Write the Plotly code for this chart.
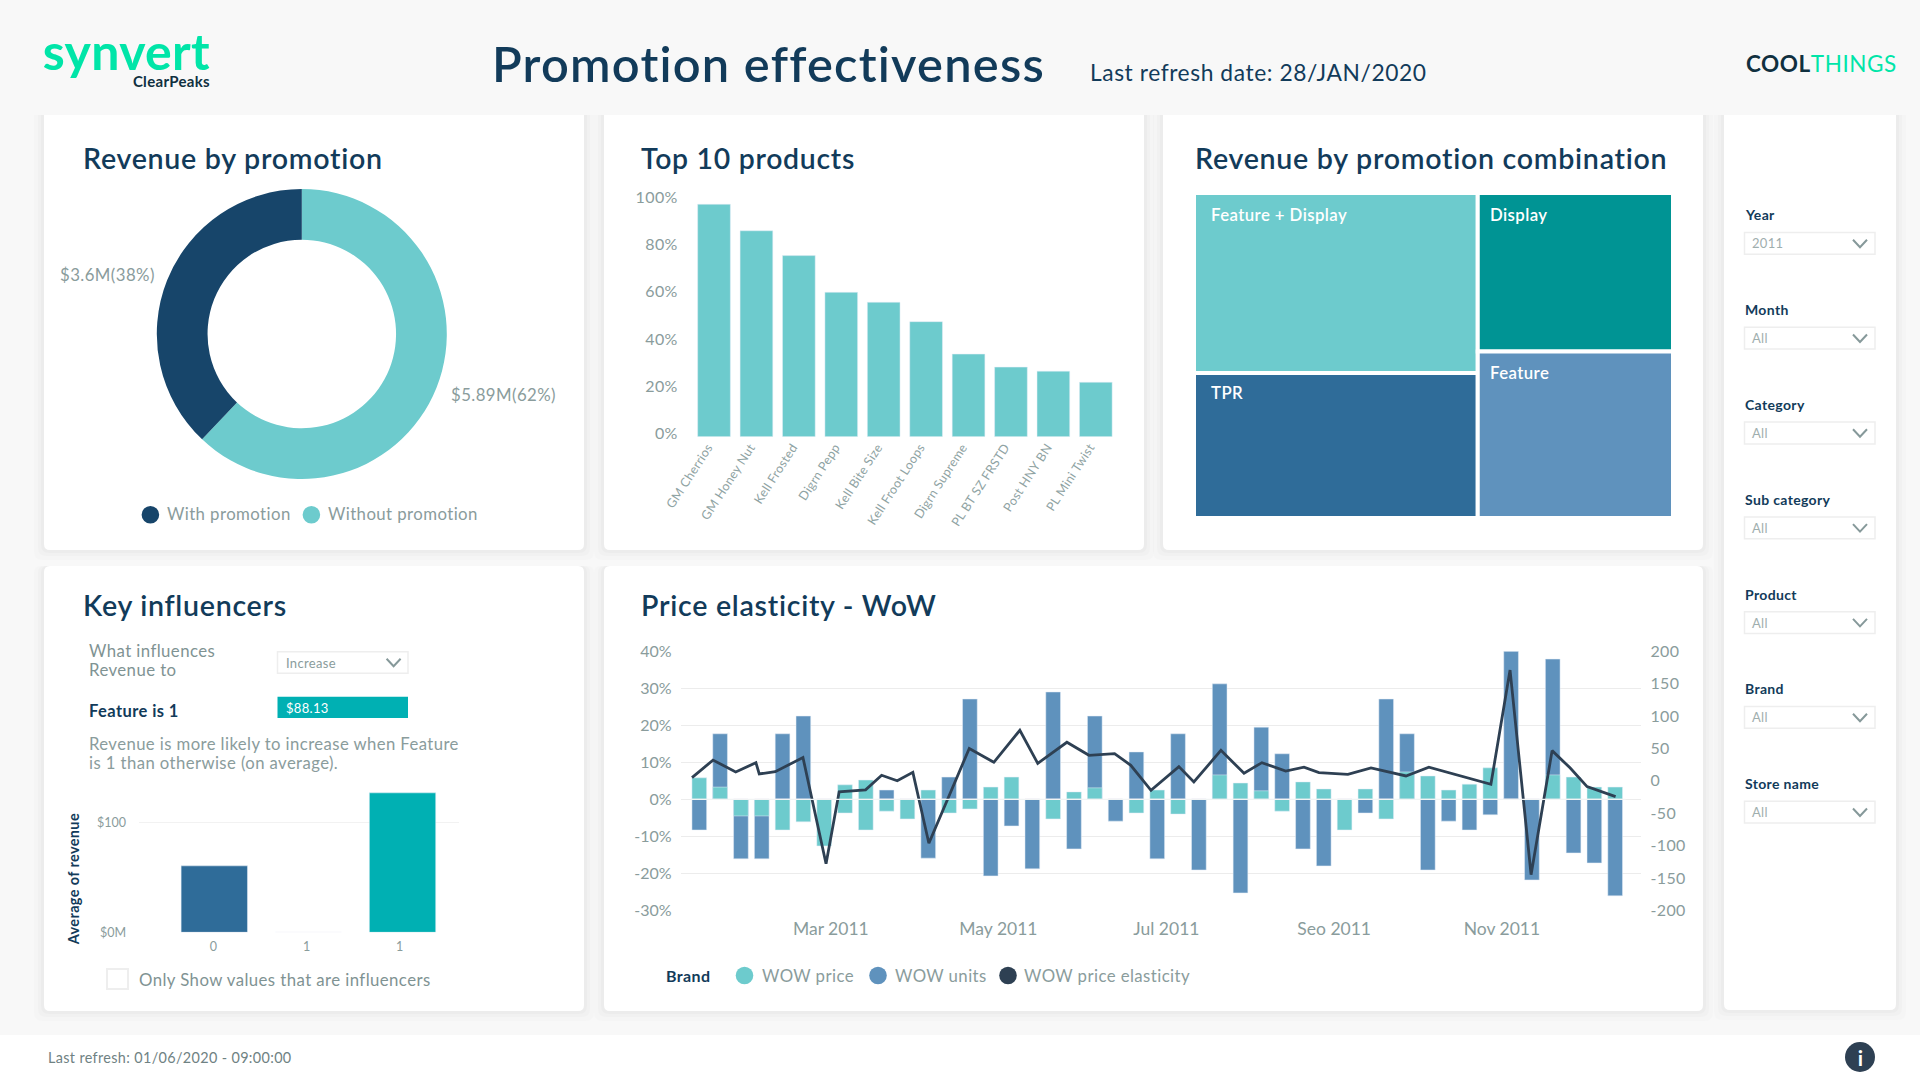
import plotly.graph_objects as go

# revenue by promotion
promo_labels = ['Without promotion', 'With promotion']
promo_values = [5.89, 3.6]

# top 10 products
products = ['GM Cherrios', 'GM Honey Nut', 'Kell Frosted', 'Digrn Pepp', 'Kell Bite Size',
            'Kell Froot Loops', 'Digrn Supreme', 'PL BT SZ FRSTD', 'Post HNY BN', 'PL Mini Twist']
product_share = [98.2, 87, 76.5, 61, 56.8, 48.6, 34.9, 29.4, 27.7, 23]
share_ticks = [0, 20, 40, 60, 80, 100]
share_labels = ['0%', '20%', '40%', '60%', '80%', '100%']

# revenue by promotion combination
combo_labels = ['Feature + Display', 'TPR', 'Display', 'Feature']
combo_values = [48825, 39339, 29568, 31104]
combo_colors = ['#6DCBCD', '#2F6C99', '#009494', '#5F92BD']

# key influencers
infl_labels = ['0', '1', '1']
infl_values = [60.7, 0, 127.4]
infl_colors = ['#2F6C99', '#2F6C99', '#00B0B3']

# price elasticity, by week
wow_units = [-8.3, 17.7, -16.1, -16.1, 17.7, 22.5, 0, 0, 0, 2.5, 0, -15.9, 6.0, 27.1, -20.7,
             -7.2, -18.8, 29, -13.4, 22.5, -5.9, 12.8, -16.1, 17.7, -19.1, 31.2, -25.3, 19.5,
             12.3, -13.4, -18, 0, -3.7, 27.1, 17.7, -19.1, -5.9, -8.3, -4.2, 40, -21.8, 37.9,
             -14.5, -17.2, -26.1]
wow_price = [5.8, 3.3, -4.5, -4.5, -8.3, -6.1, -12.6, -3.7, -8.3, -3.2, -5.3, 2.5, -3.7, -2.6, 3.3,
             6.0, 0, -5.3, 2.0, 3.1, 0, -3.7, 2.5, -4.0, 0, 6.6, 4.4, 2.3,
             -3.2, 4.7, 2.8, -8.3, 2.8, -5.3, 7.4, 6.3, 2.5, 4.1, 8.5, 0, 0, 6.6,
             6.0, 3.3, 3.3]
wow_price_up = [0, 0, 0, 0, 0, 0, 0, 3.9, 5.2] + [0] * 36
elasticity_x = [-0.35, 0.66, 1.75, 2.72, 2.88, 3.65, 4.98, 6.09, 6.72, 7.99, 8.76, 9.51, 10.26, 11.03,
                12.97, 14.15, 15.4, 16.26, 17.66, 18.72, 19.95, 20.73, 21.7, 23.04, 23.76, 25.06,
                26.17, 27.03, 28.17, 29.05, 29.77, 31.16, 32.27, 33.95, 35.05, 38.03, 38.95, 39.96,
                40.97, 41.83, 42.65, 44.02]
elasticity = [4.9, 32, 13.6, 28, 10.6, 14, 36, -128, -17, -14, 8.5, 0, 13, -96.5,
              50, 28.6, 78, 27, 59.5, 39.4, 42, 24, -14.7, 22, -1.8, 47,
              11.6, 28, 15, 21, 12.6, 10, 20, 7.5, 21, -5.4, 171, -145,
              46.6, 20, -9, -24.5]
month_ticks = [6.32, 14.37, 22.44, 30.5, 38.56]
month_labels = ['Mar 2011', 'May 2011', 'Jul 2011', 'Seo 2011', 'Nov 2011']
pct_ticks = [-30, -20, -10, 0, 10, 20, 30, 40]
pct_labels = ['-30%', '-20%', '-10%', '0%', '10%', '20%', '30%', '40%']
right_ticks = [-200, -150, -100, -50, 0, 50, 100, 150, 200]
right_labels = ['-200', '-150', '-100', '-50', '0', '50', '100', '150', '200']

# filters
filter_names = ['Year', 'Month', 'Category', 'Sub category', 'Product', 'Brand', 'Store name']
filter_values = ['2011', 'All', 'All', 'All', 'All', 'All', 'All']

W, H = 1920, 1080
NAVY = '#123B5A'
GREY = '#8A9C9C'
TEAL = '#6DCBCD'
BLUE = '#5F92BD'
DARK = '#2E4053'
FONT = 'Lato'


def px(x):
    return x / W


def py(y):
    return 1 - y / H


shapes = []
annotations = []


def text(x, y, s, size=16, color=GREY, anchor='left', **kw):
    # annotations carry a small padding, pull left aligned text back over it
    nudge = 1.5 if anchor == 'left' else 0
    annotations.append(dict(x=px(x - nudge), y=py(y), xref='paper', yref='paper', text=s, showarrow=False,
                            xanchor=anchor, yanchor='middle', align=anchor,
                            font=dict(family=FONT, size=size, color=color, **kw)))


def rect(x0, y0, x1, y1, fill='white', line=None, lw=0):
    shapes.append(dict(type='rect', xref='paper', yref='paper', x0=px(x0), x1=px(x1), y0=py(y0), y1=py(y1),
                       fillcolor=fill, line=dict(color=line or fill, width=lw), layer='below'))


def circle(cx, cy, r, fill):
    shapes.append(dict(type='circle', xref='paper', yref='paper', x0=px(cx - r), x1=px(cx + r),
                       y0=py(cy + r), y1=py(cy - r), fillcolor=fill, line=dict(width=0), layer='below'))


def rounded(x0, y0, x1, y1, r, rt, fill, opacity=1):
    p = (f'M{px(x0 + rt)},{py(y0)} L{px(x1 - rt)},{py(y0)} Q{px(x1)},{py(y0)} {px(x1)},{py(y0 + rt)} '
         f'L{px(x1)},{py(y1 - r)} Q{px(x1)},{py(y1)} {px(x1 - r)},{py(y1)} '
         f'L{px(x0 + r)},{py(y1)} Q{px(x0)},{py(y1)} {px(x0)},{py(y1 - r)} '
         f'L{px(x0)},{py(y0 + rt)} Q{px(x0)},{py(y0)} {px(x0 + rt)},{py(y0)} Z')
    shapes.append(dict(type='path', xref='paper', yref='paper', path=p, fillcolor=fill, opacity=opacity,
                       line=dict(width=0), layer='below'))


def card(x0, y0, x1, y1, rt=6):
    for grow, op in [(10, 0.012), (6, 0.016), (3, 0.02)]:
        rounded(x0 - grow, y0, x1 + grow, y1 + grow, 8, rt, '#000000', op)
    rounded(x0, y0, x1, y1, 6, rt, 'white')


def chevron(cx, cy):
    p = f'M{px(cx - 7)},{py(cy - 4)} L{px(cx)},{py(cy + 3.5)} L{px(cx + 7)},{py(cy - 4)}'
    shapes.append(dict(type='path', xref='paper', yref='paper', path=p,
                       line=dict(color='#86999A', width=2), layer='above'))


# page furniture
card(44, 115, 584, 550, rt=0)
card(604, 115, 1144, 550, rt=0)
card(1163, 115, 1703, 550, rt=0)
card(44, 566, 584, 1011)
card(604, 566, 1703, 1011)
card(1724, 115, 1896, 1010, rt=0)
rect(0, 1035, W, H, 'white')

fig = go.Figure()

fig.add_trace(go.Pie(labels=promo_labels, values=promo_values, hole=0.65, sort=False, direction='clockwise',
                     rotation=0, textinfo='none', marker=dict(colors=[TEAL, '#17456A'], line=dict(width=0)),
                     showlegend=False, domain=dict(x=[px(156.8), px(446.8)], y=[py(479), py(189)])))

fig.add_trace(go.Bar(x=products, y=product_share, marker_color=TEAL, showlegend=False,
                     xaxis='x', yaxis='y'))

fig.add_trace(go.Treemap(labels=combo_labels, parents=[''] * 4, values=combo_values, sort=False,
                         textinfo='none',
                         marker=dict(colors=combo_colors, line=dict(color='white', width=4),
                                     pad=dict(t=0, l=0, r=0, b=0)),
                         tiling=dict(packing='squarify', pad=0), pathbar=dict(visible=False),
                         domain=dict(x=[px(1194), px(1673)], y=[py(518), py(193)])))

fig.add_trace(go.Bar(x=[0, 1, 2], y=infl_values, width=0.705, marker_color=infl_colors, showlegend=False,
                     xaxis='x2', yaxis='y2'))

weeks = list(range(len(wow_units)))
fig.add_trace(go.Bar(x=weeks, y=wow_units, width=0.706, name='WOW units', marker_color=BLUE, showlegend=False,
                     xaxis='x3', yaxis='y3'))
fig.add_trace(go.Bar(x=weeks, y=wow_price, width=0.706, name='WOW price', marker_color=TEAL, showlegend=False,
                     xaxis='x3', yaxis='y3'))
fig.add_trace(go.Bar(x=weeks, y=wow_price_up, width=0.706, name='WOW price', marker_color=TEAL, showlegend=False,
                     xaxis='x3', yaxis='y3'))
fig.add_trace(go.Scatter(x=elasticity_x, y=elasticity, mode='lines', name='WOW price elasticity',
                         line=dict(color=DARK, width=2.8), showlegend=False, xaxis='x3', yaxis='y4'))

shapes.append(dict(type='line', xref='x3', yref='y3', x0=-0.4, x1=44.5, y0=0, y1=0,
                   line=dict(color='#F1F4F4', width=1.2), layer='above'))

# header and footer
text(491, 63, 'Promotion effectiveness', 48.8, NAVY, weight=600)
text(1089, 72, 'Last refresh date: 28/JAN/2020', 22.8, NAVY)
text(43, 55, '<b><span style="font-size:50px;color:#00E5A8">synvert</span><br>'
     '<span style="font-size:15px">ClearPeaks</span></b>', 13, '#10303F', anchor='right')
annotations[-1]['x'] = px(212)
text(1745, 63, '<b>COOL</b><span style="color:#00E5A8">THINGS</span>', 22.5, '#10303F')
text(47, 1057, 'Last refresh: 01/06/2020 - 09:00:00', 14.4, '#6F8283')
circle(1860, 1057, 15, DARK)
text(1860, 1057, '<b>i</b>', 21, 'white', anchor='center')

# card titles
text(82, 157.5, 'Revenue by promotion', 28.6, NAVY, weight=600)
text(640, 157.5, 'Top 10 products', 28.4, NAVY, weight=600)
text(1194, 157.5, 'Revenue by promotion combination', 28.6, NAVY, weight=600)
text(82, 605, 'Key influencers', 28.6, NAVY, weight=600)
text(640, 605, 'Price elasticity - WoW', 28.6, NAVY, weight=600)

# donut labels and legend
text(59, 274, '$3.6M(38%)', 16.8)
text(450, 395, '$5.89M(62%)', 16.8)
circle(150.4, 514.7, 8.8, '#17456A')
text(166, 514, 'With promotion', 16.8)
circle(311.4, 514.7, 8.8, TEAL)
text(327, 514, 'Without promotion', 16.8)

# treemap labels
text(1210, 214.5, 'Feature + Display', 16.8, 'white', weight=600)
text(1489.5, 214.5, 'Display', 16.8, 'white', weight=600)
text(1489.5, 373, 'Feature', 16.8, 'white', weight=600)
text(1210, 392.5, 'TPR', 16.8, 'white', weight=600)

# key influencers text
text(88, 650, 'What influences', 16.8, '#7F9393')
text(88, 669, 'Revenue to', 16.8, '#7F9393')
rect(277.5, 651.7, 408, 673.3, 'white', '#EEEEEE', 1.5)
text(285, 662.5, 'Increase', 13, '#8A9C9C')
chevron(393.6, 662.7)
text(88, 711, 'Feature is 1', 16.5, NAVY, weight=700)
rect(277.5, 696.7, 408, 718, '#00B0B3')
text(285, 707.5, '$88.13', 13, 'white')
text(88, 743.5, 'Revenue is more likely to increase when Feature', 16.7, '#8A9C9C')
text(88, 762.5, 'is 1 than otherwise (on average).', 16.7, '#8A9C9C')
annotations.append(dict(x=px(73), y=py(879), xref='paper', yref='paper', text='Average of revenue', showarrow=False,
                        textangle=-90, xanchor='center', yanchor='middle',
                        font=dict(family=FONT, size=14.5, color=NAVY, weight=700)))
rect(107, 969, 128, 989, 'white', '#EEEEEE', 2)
text(138, 979, 'Only Show values that are influencers', 16.8, '#7F9393')

# elasticity legend
text(665, 975.5, 'Brand', 16, NAVY, weight=700)
circle(744.5, 975.5, 8.8, TEAL)
text(761, 975.5, 'WOW price', 16.8)
circle(878, 975.5, 8.8, BLUE)
text(894, 975.5, 'WOW units', 16.8)
circle(1008, 975.5, 8.8, DARK)
text(1023, 975.5, 'WOW price elasticity', 16.8)

# sidebar filters
for i, (name, val) in enumerate(zip(filter_names, filter_values)):
    off = i * 94.8
    text(1744, 214.8 + off, name, 14, NAVY, weight=700)
    rect(1744.5, 232.5 + off, 1875, 254.3 + off, 'white', '#EEEEEE', 1.5)
    text(1751, 243.3 + off, val, 13, '#9FAEAE')
    chevron(1860, 243.7 + off)

tick_font = dict(family=FONT, size=16, color=GREY)
fig.update_layout(
    width=W, height=H, margin=dict(l=0, r=0, t=0, b=0, autoexpand=False), autosize=False,
    paper_bgcolor='#F8F8F8', plot_bgcolor='rgba(0,0,0,0)', font=dict(family=FONT),
    barmode='overlay', bargap=0.229, shapes=shapes, annotations=annotations, showlegend=False,
    # top 10
    xaxis=dict(domain=[px(692.8), px(1117)], anchor='y', tickangle=-57, showgrid=False, showline=False,
               ticks='', tickfont=dict(family=FONT, size=12.5, color='#8FA3A3'), zeroline=False,
               ticklabelshift=-6),
    yaxis=dict(domain=[py(436.7), py(200)], anchor='x', range=[0, 100], tickvals=share_ticks,
               ticktext=share_labels, showgrid=False, zeroline=False, tickfont=tick_font, ticklabelstandoff=14,
               ticklabelshift=-3),
    # influencers
    xaxis2=dict(domain=[px(139), px(459)], anchor='y2', range=[-0.8, 2.6], tickvals=[-0.01, 0.98, 1.97],
                ticktext=infl_labels, showgrid=False, zeroline=False, ticks='',
                tickfont=dict(family=FONT, size=12.5, color=GREY), ticklabelstandoff=5),
    yaxis2=dict(domain=[py(932.3), py(790)], anchor='x2', range=[0, 130], tickvals=[0, 100],
                ticktext=['$0M', '$100'], gridcolor='#F2F2F2', zeroline=False,
                tickfont=dict(family=FONT, size=12.5, color=GREY), ticklabelstandoff=12),
    # elasticity
    xaxis3=dict(domain=[px(680.7), px(1641.4)], anchor='y3', range=[-0.893, 45.26], tickvals=month_ticks,
                ticktext=month_labels, showgrid=False, zeroline=False, ticks='',
                tickfont=dict(family=FONT, size=17.5, color=GREY), ticklabelstandoff=6),
    yaxis3=dict(domain=[py(910.3), py(651.3)], anchor='x3', range=[-30, 40], tickvals=pct_ticks,
                ticktext=pct_labels, gridcolor='#ECECEC', zeroline=False, tickfont=tick_font, ticklabelstandoff=8),
    yaxis4=dict(domain=[py(910.3), py(651.3)], anchor='x3', overlaying='y3', side='right', range=[-200, 200],
                tickvals=right_ticks, ticktext=right_labels, showgrid=False, zeroline=False, tickfont=tick_font,
                ticklabelstandoff=8),
)

# the reference text is slightly tracked, plotly has no setting for that
post = """
document.body.style.margin = '0';
var st = document.createElement('style');
st.textContent = '.annotation-text, .xtick text, .ytick text, .y4tick text {letter-spacing: .025em}';
document.head.appendChild(st);
Plotly.redraw(document.getElementById('{plot_id}'));
"""
fig.write_html("out.html", post_script=post, config=dict(displayModeBar=False))
